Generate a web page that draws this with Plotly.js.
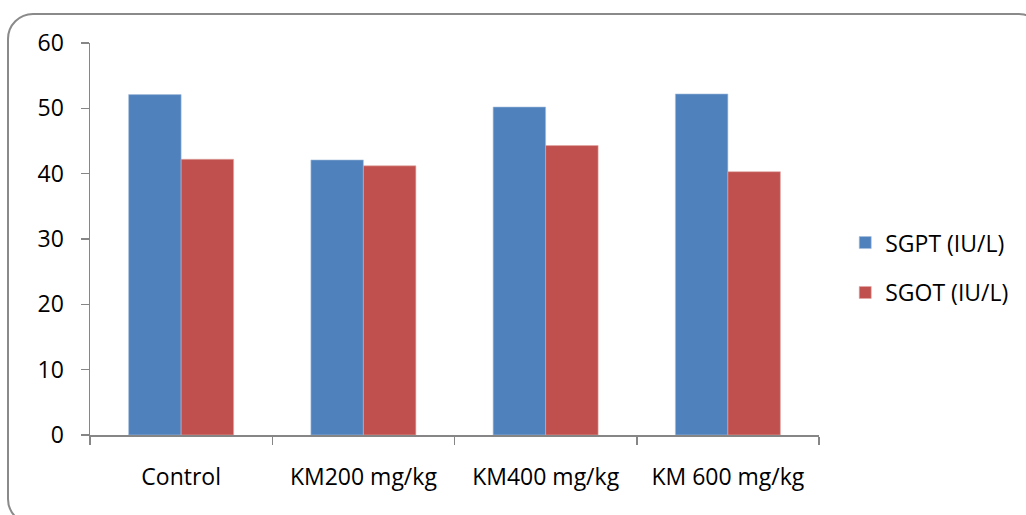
<!DOCTYPE html>
<html>
<head>
<meta charset="utf-8">
<script src="https://cdn.plot.ly/plotly-3.0.1.min.js"></script>
<style>
  html, body { margin: 0; padding: 0; width: 1026px; height: 515px; overflow: hidden; background: #ffffff; }
  #frame { position: absolute; left: 7px; top: 13px; width: 1034px; height: 508px; border: 2px solid #8a8a8a; border-radius: 26px; box-sizing: content-box; }
  #chart { position: absolute; left: 0; top: 0; width: 1026px; height: 515px; }
</style>
</head>
<body>
<div id="frame"></div>
<div id="chart"></div>
<script>
const categories = ["Control", "KM200 mg/kg", "KM400 mg/kg", "KM 600 mg/kg"];
const seriesNames = ["SGPT (IU/L)", "SGOT (IU/L)"];
const sgpt = [52.1, 42.1, 50.2, 52.2];
const sgot = [42.2, 41.2, 44.3, 40.3];
const yTicks = [0, 10, 20, 30, 40, 50, 60];

const font = "Open Sans, Noto Sans, sans-serif";
const axisColor = "#868686";

const data = [
  { type: "bar", name: seriesNames[0], x: categories, y: sgpt, legendgroup: "a",
    marker: { color: "#4F81BD", line: { color: "#a7c0de", width: 0.6 } } },
  { type: "bar", name: seriesNames[1], x: categories, y: sgot, legendgroup: "b",
    marker: { color: "#C0504D", line: { color: "#e0a8a6", width: 0.6 } } }
];

const layout = {
  width: 1026, height: 515,
  paper_bgcolor: "rgba(0,0,0,0)", plot_bgcolor: "rgba(0,0,0,0)",
  margin: { l: 90, r: 207, t: 43, b: 80, pad: 0 },
  barmode: "group", bargap: 0.424, bargroupgap: 0,
  font: { family: font, size: 23, color: "#000000" },
  showlegend: true,
  legend: { x: 1.036, xanchor: "left", y: 0.427, yanchor: "middle",
            font: { family: font, size: 23, color: "#000000" },
            traceorder: "grouped", tracegroupgap: 17, bgcolor: "rgba(0,0,0,0)" },
  xaxis: { type: "category", showline: true, linecolor: axisColor, linewidth: 1.5,
           ticks: "outside", tickson: "boundaries", ticklen: 8, tickcolor: axisColor, tickwidth: 1.5,
           showgrid: false, zeroline: false, ticklabelstandoff: 21,
           tickfont: { family: font, size: 23, color: "#000000" } },
  yaxis: { range: [0, 60], tickvals: yTicks, ticktext: yTicks.map(String),
           showline: true, linecolor: axisColor, linewidth: 1.5,
           ticks: "outside", ticklen: 8, tickcolor: axisColor, tickwidth: 1.5,
           showgrid: false, zeroline: false, ticklabelstandoff: 12,
           tickfont: { family: font, size: 23, color: "#000000" } }
};

Plotly.newPlot("chart", data, layout, { displayModeBar: false, staticPlot: true });
</script>
</body>
</html>
